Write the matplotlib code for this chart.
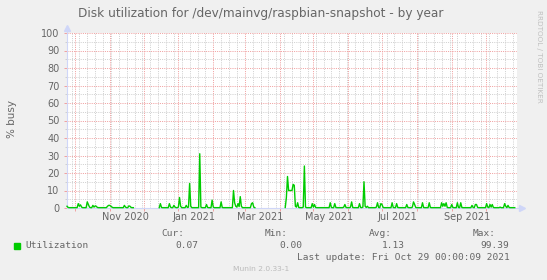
import numpy as np
import matplotlib
matplotlib.use('Agg')
import matplotlib.pyplot as plt
import matplotlib.dates as mdates
from matplotlib.transforms import blended_transform_factory

nan = np.nan

# ---------------- data ----------------
title = 'Disk utilization for /dev/mainvg/raspbian-snapshot - by year'
y_label = '% busy'
start_date = '2020-09-24'
end_date = '2021-10-29'

# daily averaged utilization (%), NaN = unknown
utilization = [
    1.0, 0.3, 0.2, 0.2, 0.2, 0.2, 0.2, 0.2, 0.2, 0.2, 2.5, 1.0, 1.8, 0.5, 0.2, 0.2, 0.2, 0.2, 3.5, 2.0,
    0.5, 0.2, 0.2, 1.5, 0.5, 1.2, 1.0, 0.3, 0.2, 0.2, 0.2, 0.2, 0.2, 0.2, 0.2, 0.2, 1.0, 1.5, 1.5, 1.0,
    0.5, 0.2, 0.2, 0.2, 0.2, 0.2, 0.2, 0.2, 0.2, 0.2, 0.2, 1.5, 0.5, 0.2, 0.2, 1.2, 1.0, 0.3, 0.2, 0.2,
    nan, nan, nan, nan, nan, nan, nan, nan, nan, nan, nan, nan, nan, nan, nan, nan, nan, nan, nan, nan,
    nan, nan, 0.2, 2.5, 0.3, 0.2, 0.2, 0.2, 0.2, 0.2, 0.2, 2.5, 0.5, 0.2, 0.2, 1.5, 0.5, 0.2, 0.2, 0.5,
    6.0, 1.0, 0.2, 0.2, 0.2, 0.2, 1.5, 0.3, 0.5, 14.0, 1.0, 0.2, 0.2, 0.2, 0.2, 0.2, 0.2, 0.2, 31.0, 0.5,
    0.2, 0.2, 0.2, 0.2, 2.0, 0.3, 0.2, 0.2, 0.2, 4.5, 0.5, 0.2, 0.2, 0.2, 0.2, 0.2, 0.2, 3.5, 0.3, 0.2,
    0.2, 0.2, 0.2, 0.2, 0.2, 0.2, 0.2, 0.2, 10.0, 3.0, 1.0, 0.5, 2.5, 0.8, 6.5, 1.0, 0.2, 0.2, 0.2, 0.2,
    0.2, 0.2, 0.2, 0.2, 2.5, 3.0, 0.5, 0.2, nan, nan, nan, nan, nan, nan, nan, nan, nan, nan, nan, nan,
    nan, nan, nan, nan, nan, nan, nan, nan, nan, nan, nan, nan, nan, nan, 0.3, 6.0, 18.0, 10.0, 10.0, 10.0,
    10.0, 13.5, 13.0, 1.0, 0.5, 3.0, 0.3, 0.2, 0.2, 0.2, 0.5, 24.0, 0.5, 0.2, 0.2, 0.2, 0.2, 0.2, 2.5, 0.5,
    2.0, 0.3, 0.2, 0.2, 0.2, 0.2, 0.2, 0.2, 0.2, 0.2, 0.2, 0.2, 0.2, 0.2, 3.0, 0.3, 0.2, 0.2, 2.5, 0.3,
    0.2, 0.2, 0.2, 0.2, 0.2, 0.2, 0.5, 2.0, 0.3, 0.2, 0.2, 0.2, 0.5, 3.5, 0.3, 0.2, 0.2, 0.2, 0.2, 0.2,
    2.5, 0.3, 0.2, 0.5, 15.0, 1.0, 0.3, 1.0, 0.2, 0.2, 0.2, 0.2, 0.2, 0.2, 0.2, 0.5, 3.0, 0.3, 0.2, 2.5,
    2.0, 0.3, 0.2, 0.2, 0.2, 0.2, 0.2, 0.2, 0.2, 3.0, 0.3, 0.2, 0.2, 2.5, 0.3, 0.2, 0.2, 0.2, 0.2, 0.2,
    0.2, 0.2, 2.0, 0.3, 0.2, 0.2, 0.2, 0.5, 3.5, 2.0, 0.3, 0.2, 0.2, 0.2, 0.2, 0.2, 3.0, 0.3, 0.2, 0.2,
    0.2, 0.2, 3.0, 0.3, 0.2, 0.2, 0.2, 0.2, 0.2, 0.2, 0.2, 0.2, 0.2, 3.0, 1.0, 2.5, 1.0, 3.0, 0.3, 0.2,
    0.2, 0.2, 2.0, 0.3, 0.2, 0.2, 0.2, 3.0, 0.3, 0.2, 3.0, 0.3, 0.2, 0.2, 0.2, 0.2, 0.2, 0.2, 0.2, 0.2,
    1.5, 0.3, 0.2, 2.0, 2.0, 0.3, 0.2, 0.2, 0.2, 0.2, 0.2, 0.2, 0.2, 2.5, 0.5, 0.2, 2.0, 0.5, 2.0, 0.3,
    0.2, 0.2, 0.2, 0.2, 0.2, 0.5, 0.2, 0.2, 0.2, 2.5, 1.0, 0.2, 1.5, 0.3, 0.2, 0.2, 0.2, 0.2, 0.2, nan,
]

tick_label_dates = ['2020-11-15', '2021-01-15', '2021-03-15', '2021-05-15', '2021-07-15', '2021-09-15']
tick_labels = ['Nov 2020', 'Jan 2021', 'Mar 2021', 'May 2021', 'Jul 2021', 'Sep 2021']
y_ticks = list(range(0, 101, 10))
y_minor_ticks = list(range(5, 100, 10))

legend_name = 'Utilization'
stat_names = ['Cur:', 'Min:', 'Avg:', 'Max:']
stat_values = ['0.07', '0.00', '1.13', '99.39']
last_update = 'Last update: Fri Oct 29 00:00:09 2021'
munin_version = 'Munin 2.0.33-1'
side_credit = 'RRDTOOL / TOBI OETIKER'

# ---------------- style ----------------
BACK = '#F0F0F0'
FONT = '#666666'
AXIS = '#CFD6F8'
LINE = '#00CC00'
MGRID = '#F0A0A0'
GRID = '#D0D0D0'

W, H = 547, 280
fig = plt.figure(figsize=(W / 100, H / 100), dpi=100, facecolor=BACK)

left, right, top, bottom = 67, 517, 33, 208
ax = fig.add_axes([left / W, 1 - bottom / H, (right - left) / W, (bottom - top) / H])
ax.set_facecolor('white')

x = np.datetime64(start_date) + np.arange(len(utilization)).astype('timedelta64[D]')
y = np.array(utilization, dtype=float)
ax.plot(x, y, color=LINE, lw=1.0, zorder=5, clip_on=False)

ax.set_xlim(np.datetime64(start_date), np.datetime64(end_date))
ax.set_ylim(0, 100)

# grids
ax.xaxis.set_major_locator(mdates.MonthLocator(bymonthday=1))
ax.xaxis.set_minor_locator(mdates.WeekdayLocator(byweekday=mdates.MO))
ax.xaxis.set_major_formatter(matplotlib.ticker.NullFormatter())
ax.xaxis.set_minor_formatter(matplotlib.ticker.NullFormatter())
ax.set_yticks(y_ticks)
ax.set_yticks(y_minor_ticks, minor=True)

dot = (0, (1, 1.2))
ax.grid(which='minor', axis='both', color=GRID, lw=0.72, linestyle=dot, zorder=1)
ax.grid(which='major', axis='both', color=MGRID, lw=0.72, linestyle=dot, zorder=2)
ax.set_axisbelow(True)

ax.tick_params(axis='y', which='major', length=2.5, width=0.7, color=MGRID,
               labelsize=7, labelcolor=FONT, pad=3)
ax.tick_params(axis='y', which='minor', length=1.5, width=0.7, color=GRID)
ax.tick_params(axis='x', which='major', length=2, width=0.7, color=MGRID)
ax.tick_params(axis='x', which='minor', length=0)
for lab in ax.get_yticklabels():
    lab.set_fontfamily('DejaVu Sans')

for s in ['top', 'right']:
    ax.spines[s].set_visible(False)
for s in ['left', 'bottom']:
    ax.spines[s].set_color(AXIS)
    ax.spines[s].set_linewidth(0.8)

# arrows at axis ends
ax.plot([0, 0], [1, 1.03], color=AXIS, lw=0.8, transform=ax.transAxes, clip_on=False)
ax.plot([0], [1.03], marker='^', ms=4, color=AXIS, transform=ax.transAxes, clip_on=False)
ax.plot([1, 1.01], [0, 0], color=AXIS, lw=0.8, transform=ax.transAxes, clip_on=False)
ax.plot([1.01], [0], marker='>', ms=4, color=AXIS, transform=ax.transAxes, clip_on=False)

# x labels (centered mid-month)
trans = blended_transform_factory(ax.transData, ax.transAxes)
for d, lab in zip(tick_label_dates, tick_labels):
    ax.text(mdates.date2num(np.datetime64(d)), -0.025, lab, transform=trans,
            ha='center', va='top', fontsize=7, color=FONT)

# title, labels
fig.text(261 / W, 1 - 13.5 / H, title, ha='center', va='center', fontsize=8.7, color=FONT)
fig.text(12 / W, 1 - 119 / H, y_label, ha='center', va='center', rotation=90,
         fontsize=7.5, color=FONT)
fig.text(539 / W, 1 - 56 / H, side_credit, ha='center', va='center', rotation=270,
         fontsize=5.2, color='#C0C0C0')

# legend
mono = 'DejaVu Sans Mono'
fig.patches.append(matplotlib.patches.Rectangle((13.5 / W, 1 - 248.5 / H), 6 / W, 6 / H,
                                                transform=fig.transFigure, color=LINE))
fig.text(25 / W, 1 - 245.7 / H, legend_name, ha='left', va='center', fontsize=6.8,
         color=FONT, family=mono)
name_right = [184, 288, 392, 496]
val_right = [198, 302, 405, 509.5]
for nm, nr in zip(stat_names, name_right):
    fig.text(nr / W, 1 - 234 / H, nm, ha='right', va='center', fontsize=6.8, color=FONT, family=mono)
for v, vr in zip(stat_values, val_right):
    fig.text(vr / W, 1 - 245.7 / H, v, ha='right', va='center', fontsize=6.8, color=FONT, family=mono)
fig.text(509.5 / W, 1 - 257.3 / H, last_update, ha='right', va='center', fontsize=6.8,
         color=FONT, family=mono)
fig.text(261.5 / W, 1 - 269.3 / H, munin_version, ha='center', va='center', fontsize=5.4,
         color='#BBBBBB')

fig.savefig('out.png', dpi=100, facecolor=BACK)
